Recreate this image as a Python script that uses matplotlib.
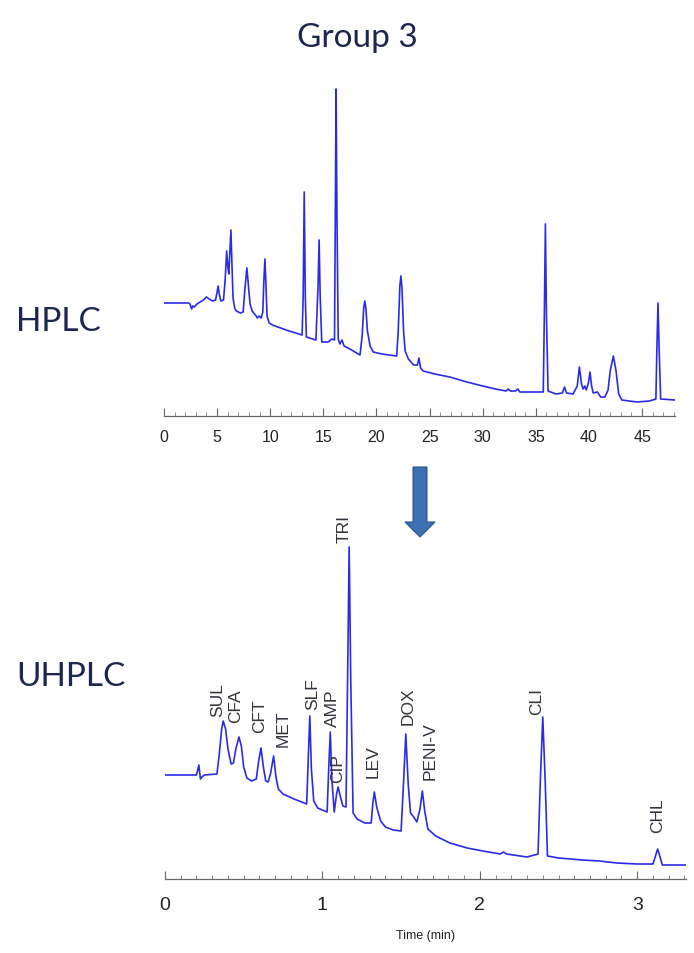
import numpy as np
import matplotlib
matplotlib.use("Agg")
import matplotlib.pyplot as plt
from matplotlib.ticker import MultipleLocator
from matplotlib.patches import FancyArrow

# HPLC trace (time in min, signal in arbitrary units)
hplc_t = [0, 2.3, 2.45, 2.6, 2.7, 2.85, 3.1, 3.4, 3.7, 4.0, 4.25, 4.6, 4.85, 5.0, 5.1, 5.2,
          5.35, 5.6, 5.75, 5.9, 6.0, 6.1, 6.2, 6.3, 6.4, 6.5, 6.65, 6.8, 7.2, 7.45, 7.6, 7.8,
          7.95, 8.1, 8.3, 8.6, 8.8, 8.95, 9.15, 9.3, 9.4, 9.5, 9.6, 9.7, 9.9, 10.2, 11.5,
          13.0, 13.1, 13.2, 13.3, 13.4, 14.3, 14.5, 14.6, 14.7, 14.85, 15.45, 15.8, 16.05,
          16.12, 16.2, 16.28, 16.4, 16.55, 16.75, 16.95, 17.5, 18.45, 18.65, 18.8, 18.9,
          19.0, 19.15, 19.4, 19.7, 20.5, 21.9, 22.05, 22.2, 22.3, 22.4, 22.55, 22.7, 23.0,
          23.5, 23.85, 24.0, 24.15, 24.4, 25.5, 26.9, 28.5, 30.0, 31.2, 32.2, 32.4, 32.6,
          33.1, 33.3, 33.5, 35.7, 35.8, 35.9, 36.0, 36.15, 36.9, 37.5, 37.7, 37.9, 38.5,
          38.9, 39.1, 39.3, 39.45, 39.6, 39.75, 39.95, 40.1, 40.25, 40.4, 40.8, 41.1, 41.5,
          41.8, 42.0, 42.3, 42.55, 42.8, 43.1, 44.5, 45.7, 46.3, 46.4, 46.5, 46.6, 46.75, 48.1]
hplc_s = [113, 113, 112, 107, 110, 109, 112, 114, 116, 119, 117, 115, 116, 124, 130, 122,
          115, 116, 135, 165, 150, 142, 165, 186, 150, 118, 108, 105, 103, 104, 125, 148,
          130, 112, 105, 101, 98, 100, 98, 104, 135, 157, 130, 100, 93, 91, 86,
          81, 120, 224, 120, 79, 76, 130, 176, 120, 74, 74, 77, 76,
          200, 327, 200, 77, 72, 76, 70, 67, 61, 80, 108, 115,
          108, 85, 70, 64, 62, 60, 85, 130, 140, 128, 85, 65, 57,
          51, 51, 58, 48, 45, 42, 39, 34, 30, 27, 25, 27, 25,
          25, 27, 24, 24, 100, 192, 100, 25, 22, 23, 29, 23, 22,
          30, 49, 32, 27, 30, 26, 33, 44, 30, 23, 24, 19, 19,
          26, 45, 60, 45, 22, 16, 14, 15, 17, 70, 113, 70, 17, 16]

# UHPLC trace
uhplc_t = [0, 0.2, 0.215, 0.225, 0.235, 0.25, 0.33, 0.345, 0.36, 0.37, 0.385, 0.40, 0.42,
           0.435, 0.45, 0.47, 0.485, 0.50, 0.52, 0.55, 0.58, 0.595, 0.61, 0.625, 0.64, 0.655,
           0.67, 0.69, 0.705, 0.72, 0.75, 0.82, 0.90, 0.91, 0.92, 0.93, 0.945, 0.97, 1.03,
           1.04, 1.05, 1.06, 1.075, 1.09, 1.10, 1.115, 1.13, 1.15, 1.16, 1.17, 1.18, 1.195,
           1.22, 1.27, 1.31, 1.32, 1.33, 1.345, 1.37, 1.40, 1.45, 1.50, 1.515, 1.53, 1.545,
           1.56, 1.58, 1.60, 1.62, 1.635, 1.65, 1.67, 1.72, 1.81, 1.92, 2.02, 2.13, 2.15,
           2.17, 2.30, 2.37, 2.385, 2.40, 2.415, 2.43, 2.5, 2.65, 2.76, 2.87, 3.0, 3.10,
           3.12, 3.13, 3.145, 3.16, 3.31]
uhplc_s = [104, 104, 114, 100, 102, 104, 105, 125, 150, 158, 150, 130, 115,
           116, 130, 142, 133, 112, 101, 98, 100, 118, 131, 112, 98, 97,
           105, 123, 102, 90, 85, 80, 75, 120, 163, 110, 78, 71, 67,
           110, 147, 100, 67, 85, 92, 82, 73, 72, 200, 332, 200, 66,
           60, 56, 56, 75, 87, 72, 58, 52, 49, 48, 95, 145, 95,
           66, 62, 57, 70, 88, 68, 50, 43, 36, 31, 28, 25, 27,
           25, 22, 25, 100, 162, 100, 23, 21, 19, 18, 16, 15, 15,
           25, 30, 22, 14, 14]

# peak labels: name, time, signal of label bottom
peak_names = ["SUL", "CFA", "CFT", "MET", "SLF", "AMP", "CIP", "TRI", "LEV", "DOX", "PENI-V", "CLI", "CHL"]
peak_lab_t = [0.332, 0.446, 0.598, 0.750, 0.940, 1.067, 1.099, 1.137, 1.321, 1.543, 1.682, 2.361, 3.128]
peak_lab_s = [163, 157, 147, 133, 170, 153, 97, 337, 102, 155, 100, 165, 47]

W, H = 694, 954
fig = plt.figure(figsize=(W / 100, H / 100), dpi=100)
line_col = "#2b2be6"
txt_col = "#1c2650"

def setup(ax, major, minor, fs, pad):
    for s in ["top", "left", "right"]:
        ax.spines[s].set_visible(False)
    ax.spines["bottom"].set_color("#666666")
    ax.spines["bottom"].set_linewidth(0.9)
    ax.set_yticks([])
    ax.xaxis.set_major_locator(MultipleLocator(major))
    ax.xaxis.set_minor_locator(MultipleLocator(minor))
    ax.tick_params(axis="x", which="major", direction="in", length=6, width=0.8,
                   color="#666666", labelsize=fs, pad=pad, labelcolor="#222222")
    ax.tick_params(axis="x", which="minor", direction="in", length=3, width=0.7, color="#888888")
    for lab in ax.get_xticklabels():
        lab.set_family("Liberation Sans")
    ax.patch.set_alpha(0)

# HPLC panel: axis at y=417 px, x 164..675 px
ax1 = fig.add_axes([164 / W, (H - 417) / H, (675 - 164) / W, 340 / H])
ax1.plot(hplc_t, hplc_s, color=line_col, lw=1.2)
ax1.set_xlim(0, 48.1)
ax1.set_ylim(0, 340)
setup(ax1, 5, 1, 11.5, 9)

# UHPLC panel: axis at y=880 px, x 165..686 px
ax2 = fig.add_axes([165 / W, (H - 880) / H, (686 - 165) / W, 345 / H])
ax2.plot(uhplc_t, uhplc_s, color=line_col, lw=1.2)
ax2.set_xlim(0, 3.31)
ax2.set_ylim(0, 345)
setup(ax2, 1, 0.1, 14, 12)
ax2.set_xlabel("Time (min)", fontsize=9, family="Liberation Sans", color="#222222", labelpad=12)

for name, t, s in zip(peak_names, peak_lab_t, peak_lab_s):
    ax2.text(t, s, name, rotation=90, ha="center", va="bottom", fontsize=12.5,
             family="Liberation Sans", color="#333340", clip_on=False)

# overlay for titles and arrow (pixel coordinates)
ov = fig.add_axes([0, 0, 1, 1])
ov.set_xlim(0, W)
ov.set_ylim(H, 0)
ov.axis("off")
ov.text(357, 38, "Group 3", ha="center", va="center", fontsize=24, family="Lato", color=txt_col)
ov.text(16, 322, "HPLC", ha="left", va="center", fontsize=24, family="Lato", color=txt_col)
ov.text(16, 677, "UHPLC", ha="left", va="center", fontsize=24, family="Lato", color=txt_col)
ov.add_patch(FancyArrow(420, 468, 0, 70, width=14, head_width=30, head_length=15,
                        length_includes_head=True, facecolor="#3d6fb3", edgecolor="#2c5590", lw=0.8))

fig.savefig("out.png", dpi=100)
